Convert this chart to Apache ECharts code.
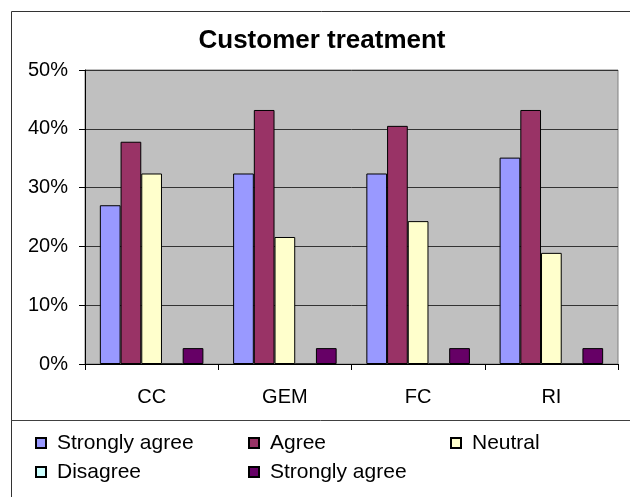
<!DOCTYPE html>
<html>
<head>
<meta charset="utf-8">
<title>Customer treatment</title>
<script src="https://cdn.jsdelivr.net/npm/echarts@6/dist/echarts.min.js"></script>
<style>
  html, body { margin: 0; padding: 0; background: #ffffff; }
  #chart { width: 630px; height: 497px; }
</style>
</head>
<body>
<div id="chart"></div>
<script>
// Survey answers per site, as percentages of respondents
const categories = ['CC', 'GEM', 'FC', 'RI'];
const stronglyAgree = [27.0, 32.4, 32.4, 35.1];
const agree = [37.8, 43.2, 40.5, 43.2];
const neutral = [32.4, 21.6, 24.3, 18.9];
const disagree = [0, 0, 0, 0];
const stronglyAgree2 = [2.7, 2.7, 2.7, 2.7];
const yTicks = [0, 10, 20, 30, 40, 50];

const FONT = "'Liberation Sans', Arial, sans-serif";

// The last series carries the same label as the first; a trailing space keeps
// the two legend entries apart and the formatter trims it when drawing.
const seriesDefs = [
  { name: 'Strongly agree', data: stronglyAgree, color: '#9999FF' },
  { name: 'Agree', data: agree, color: '#993366' },
  { name: 'Neutral', data: neutral, color: '#FFFFCC' },
  { name: 'Disagree', data: disagree, color: '#CCFFFF' },
  { name: 'Strongly agree ', data: stronglyAgree2, color: '#660066' }
];

// Legend slots: two rows of entries under the separator line
const legendSlots = [
  { left: 35, top: 432 },
  { left: 248, top: 432 },
  { left: 450, top: 432 },
  { left: 35, top: 461 },
  { left: 248, top: 461 }
];

const chart = echarts.init(document.getElementById('chart'), null, { renderer: 'canvas' });

const option = {
  animation: false,
  backgroundColor: '#ffffff',
  textStyle: { fontFamily: FONT, color: '#000' },
  grid: {
    left: 85, right: 12, top: 70, bottom: 133,
    show: true,
    backgroundColor: '#C0C0C0',
    borderColor: '#808080',
    borderWidth: 1
  },
  legend: seriesDefs.map((s, i) => ({
    data: [s.name],
    left: legendSlots[i].left,
    top: legendSlots[i].top,
    orient: 'horizontal',
    padding: 0,
    itemWidth: 10,
    itemHeight: 10,
    icon: 'rect',
    selectedMode: false,
    formatter: (name) => name.trim(),
    textStyle: {
      fontFamily: FONT, fontSize: 21, color: '#000',
      lineHeight: 22, padding: [0, 0, 0, 6]
    }
  })),
  xAxis: {
    type: 'category',
    data: categories,
    boundaryGap: true,
    axisLine: { show: true, lineStyle: { color: '#000', width: 1 } },
    axisTick: { show: true, length: 6, lineStyle: { color: '#000' } },
    axisLabel: { fontFamily: FONT, fontSize: 20, color: '#000', margin: 23 },
    splitLine: { show: false }
  },
  yAxis: {
    type: 'value',
    min: yTicks[0],
    max: yTicks[yTicks.length - 1],
    interval: 10,
    axisLine: { show: true, lineStyle: { color: '#000', width: 1 } },
    axisTick: { show: true, length: 6, lineStyle: { color: '#000' } },
    axisLabel: { fontFamily: FONT, fontSize: 20, color: '#000', margin: 17, formatter: '{value}%' },
    splitLine: { show: true, lineStyle: { color: '#333333', width: 1 } }
  },
  series: seriesDefs.map((s) => ({
    name: s.name,
    type: 'bar',
    data: s.data,
    barGap: '0%',
    barCategoryGap: '22.3%',
    itemStyle: { color: s.color, borderColor: '#000', borderWidth: 1 }
  })),
  graphic: [
    {
      type: 'rect',
      shape: { x: 11.5, y: 11.5, width: 640, height: 520 },
      style: { fill: null, stroke: '#333333', lineWidth: 1 },
      silent: true, z: -1
    },
    {
      type: 'line',
      shape: { x1: 11, y1: 420.5, x2: 630, y2: 420.5 },
      style: { stroke: '#404040', lineWidth: 1 },
      silent: true
    },
    {
      type: 'text',
      x: 322, y: 41,
      style: {
        text: 'Customer treatment',
        font: "bold 26px 'Liberation Sans', Arial, sans-serif",
        fill: '#000',
        align: 'center',
        verticalAlign: 'middle'
      },
      silent: true
    }
  ]
};

chart.setOption(option);
</script>
</body>
</html>
